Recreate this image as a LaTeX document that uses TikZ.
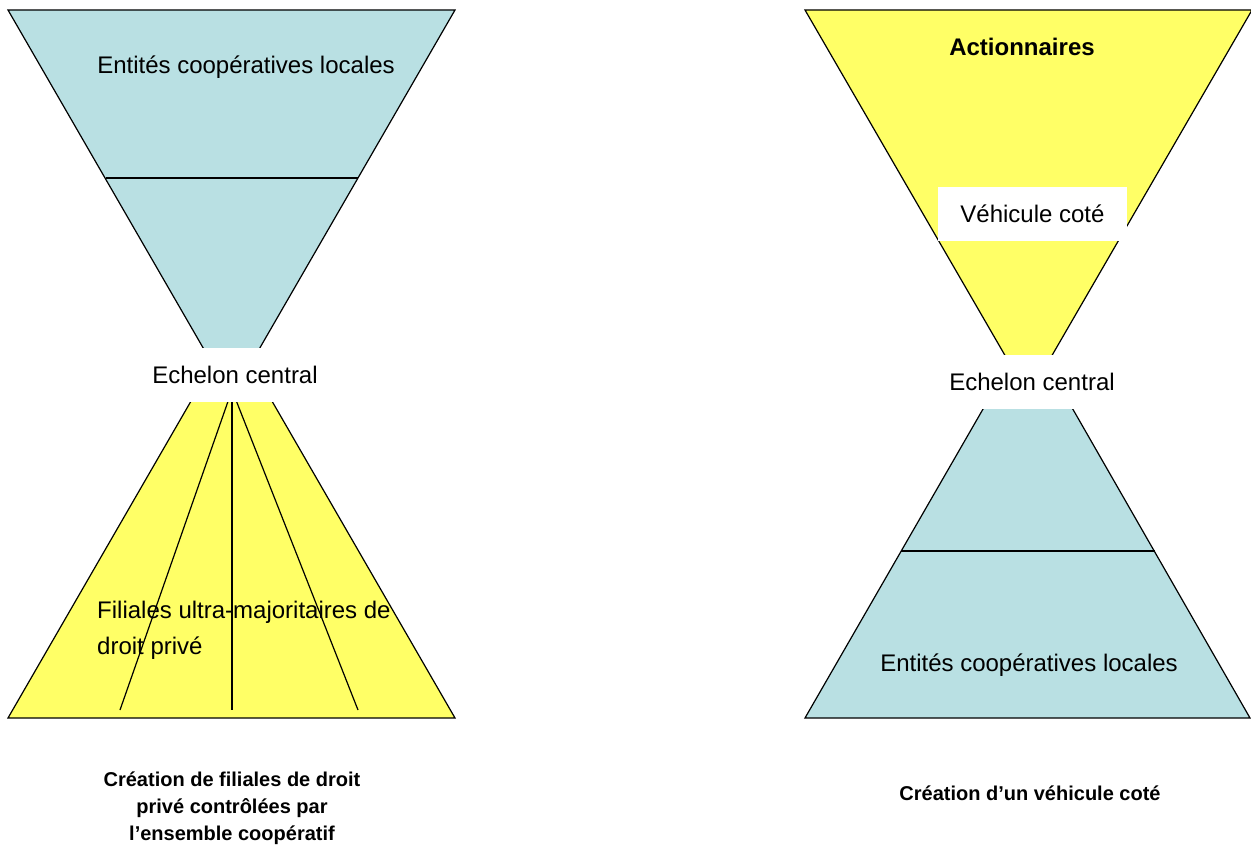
\documentclass[tikz,border=0pt]{standalone}
\usepackage{fontspec}
\setmainfont{Liberation Sans}
\definecolor{coopblue}{HTML}{B9E0E3}
\definecolor{filyellow}{HTML}{FFFF66}
\begin{document}
\begin{tikzpicture}[x=1pt,y=-1pt,
  shapeline/.style={draw=black,line width=1.2pt,line join=miter},
  divline/.style={draw=black,line width=1.2pt},
  lbl/.style={font=\fontsize{24}{28}\selectfont, inner sep=0pt},
  boldlbl/.style={font=\bfseries\fontsize{24}{28}\selectfont, inner sep=0pt},
  band/.style={fill=white, inner sep=0pt, minimum width=190pt, minimum height=54pt, font=\fontsize{24}{28}\selectfont},
  captionlbl/.style={font=\bfseries\fontsize{20}{27}\selectfont, align=center, inner sep=0pt}]
\useasboundingbox (0,0) rectangle (1251,853);

% ---------- left diagram ----------
\coordinate (LBl) at (8,718);
\coordinate (LBr) at (455,718);
\coordinate (LBa) at (231.5,331);
\filldraw[shapeline, fill=filyellow] (LBl) -- (LBa) -- (LBr) -- cycle;
\coordinate (LF) at (232,390);
\coordinate (LF1) at (120,710);
\coordinate (LF2) at (232,710);
\coordinate (LF3) at (358,710);
\draw[divline] (LF) -- (LF1);
\draw[divline] (LF) -- (LF2);
\draw[divline] (LF) -- (LF3);

\coordinate (LTl) at (8,10);
\coordinate (LTr) at (455,10);
\coordinate (LTa) at (231.5,397);
\filldraw[shapeline, fill=coopblue] (LTl) -- (LTr) -- (LTa) -- cycle;
\coordinate (LM1) at (105.5,178);
\coordinate (LM2) at (357.5,178);
\draw[divline] (LM1) -- (LM2);

\node[band] (Lech) at (235,375) {Echelon central};
\node[lbl] (Lent) at (246,67) {Entités coopératives locales};
\node[lbl, align=left, anchor=north west, font=\fontsize{24}{36}\selectfont] (Lfil) at (97,601) {Filiales ultra-majoritaires de\\droit privé};
\node[captionlbl] (Lcap) at (232,808) {Création de filiales de droit\\privé contrôlées par\\l’ensemble coopératif};

% ---------- right diagram ----------
\coordinate (RBl) at (805,718);
\coordinate (RBr) at (1250,718);
\coordinate (RBa) at (1028,331);
\filldraw[shapeline, fill=coopblue] (RBl) -- (RBa) -- (RBr) -- cycle;
\coordinate (RM1) at (901,551);
\coordinate (RM2) at (1155,551);
\draw[divline] (RM1) -- (RM2);

\coordinate (RTl) at (805,10);
\coordinate (RTr) at (1252,10);
\coordinate (RTa) at (1028.5,396);
\filldraw[shapeline, fill=filyellow] (RTl) -- (RTr) -- (RTa) -- cycle;

\node[band] (Rech) at (1032,382) {Echelon central};
\node[band, minimum width=189pt] (Rveh) at (1032.5,214) {Véhicule coté};
\node[boldlbl] (Ract) at (1022,47) {Actionnaires};
\node[lbl] (Rent) at (1029,665) {Entités coopératives locales};
\node[captionlbl] (Rcap) at (1030,793) {Création d’un véhicule coté};
\end{tikzpicture}
\end{document}
